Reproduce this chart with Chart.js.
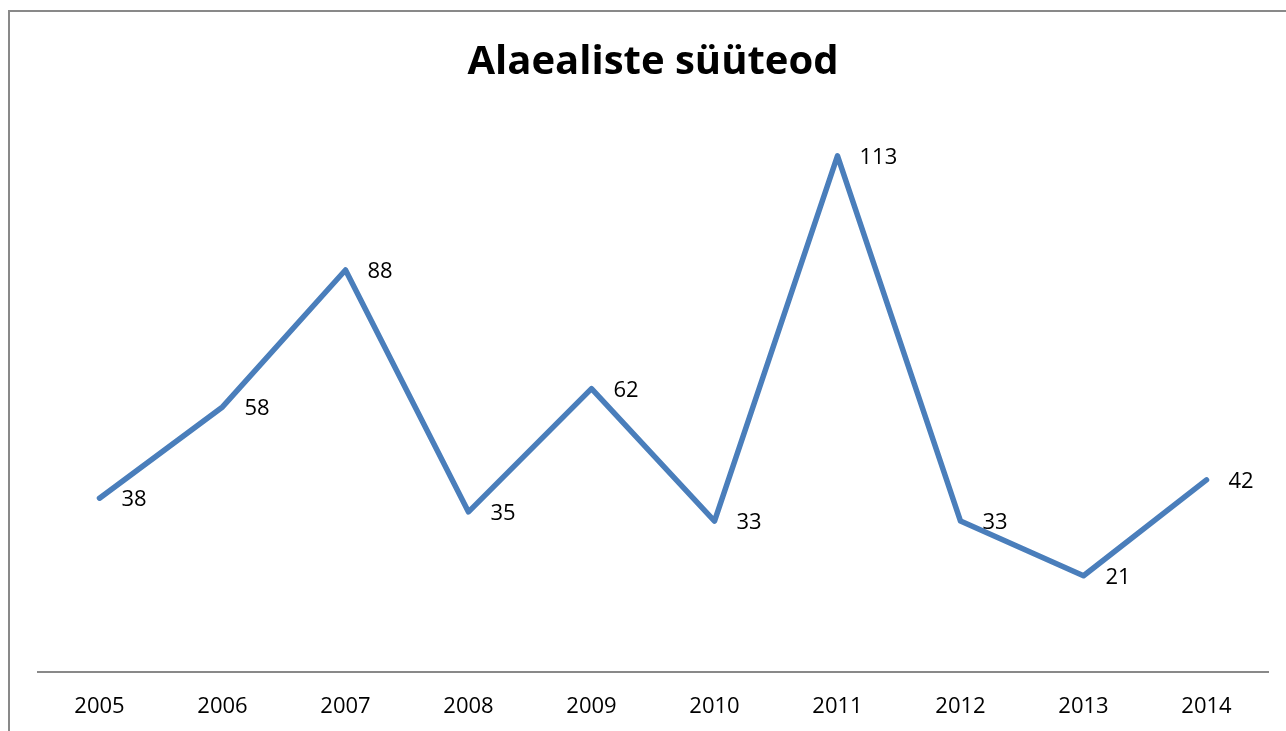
<!DOCTYPE html>
<html>
<head>
<meta charset="utf-8">
<script src="https://cdn.jsdelivr.net/npm/chart.js@4.4.0/dist/chart.umd.min.js"></script>
<style>
  html, body { margin: 0; padding: 0; background: #fff; }
  #wrap { position: absolute; left: 0; top: 0; width: 1286px; height: 731px; overflow: hidden; }
  #frame { position: absolute; left: 8px; top: 10px; width: 1400px; height: 800px;
           border-left: 2px solid #898989; border-top: 2px solid #898989; box-sizing: border-box; }
  canvas { position: absolute; left: 0; top: 0; }
</style>
</head>
<body>
<div id="wrap">
  <div id="frame"></div>
  <canvas id="c" width="1286" height="754"></canvas>
</div>
<script>
const titleText = "Alaealiste süüteod";
const years = ["2005","2006","2007","2008","2009","2010","2011","2012","2013","2014"];
const cases = [38, 58, 88, 35, 62, 33, 113, 33, 21, 42];
const yMin = 0;
const yMax = 120;

const labelPlugin = {
  id: 'pointLabels',
  afterDatasetsDraw(chart) {
    const ctx = chart.ctx;
    const meta = chart.getDatasetMeta(0);
    ctx.save();
    ctx.font = '22px "Open Sans"';
    ctx.fillStyle = '#000';
    ctx.textAlign = 'left';
    ctx.textBaseline = 'middle';
    meta.data.forEach((pt, i) => {
      ctx.fillText(String(chart.data.datasets[0].data[i]), pt.x + 22, pt.y + 2);
    });
    ctx.restore();
  }
};

new Chart(document.getElementById('c'), {
  type: 'line',
  data: {
    labels: years,
    datasets: [{
      data: cases,
      borderColor: '#4a7ebb',
      borderWidth: 5.5,
      borderJoinStyle: 'round',
      borderCapStyle: 'round',
      pointRadius: 0,
      pointHoverRadius: 0,
      tension: 0,
      fill: false
    }]
  },
  options: {
    responsive: false,
    animation: false,
    devicePixelRatio: 1,
    layout: { padding: { left: 38, right: 18, top: 0, bottom: 12 } },
    plugins: {
      legend: { display: false },
      tooltip: { enabled: false },
      title: {
        display: true,
        text: titleText,
        color: '#000',
        font: { family: '"Open Sans"', size: 40, weight: 'bold', lineHeight: 1.2 },
        padding: { top: 39, bottom: 37 }
      }
    },
    scales: {
      x: {
        offset: true,
        grid: { display: false, drawTicks: false },
        border: { display: true, color: '#898989', width: 2 },
        ticks: { color: '#000', font: { family: '"Open Sans"', size: 22 }, padding: 22, maxRotation: 0 }
      },
      y: {
        display: false,
        min: yMin,
        max: yMax
      }
    }
  },
  plugins: [labelPlugin]
});
</script>
</body>
</html>
